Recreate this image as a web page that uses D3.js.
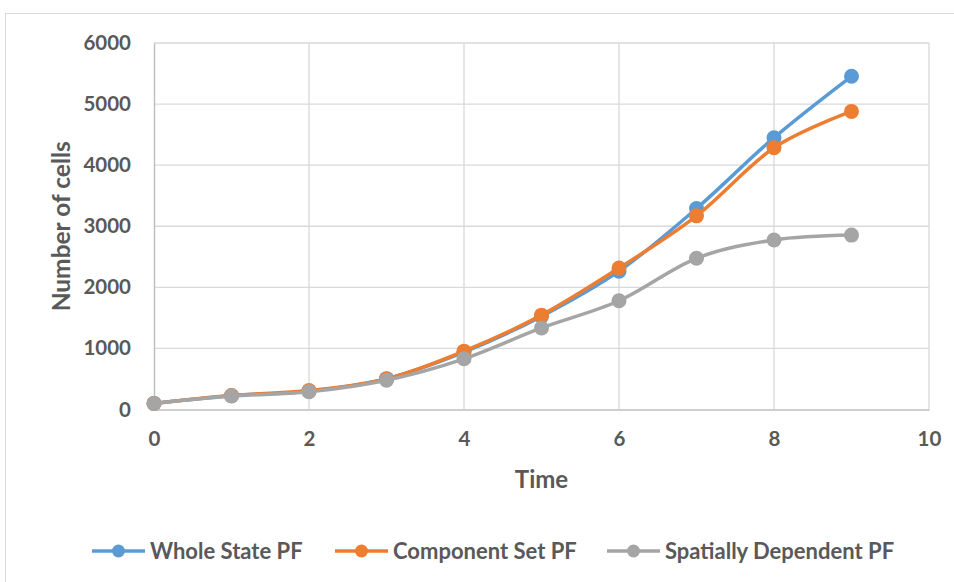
<!DOCTYPE html>
<html>
<head>
<meta charset="utf-8">
<script src="https://cdn.jsdelivr.net/npm/d3@7"></script>
<style>
  html, body { margin: 0; padding: 0; background: #fff; }
  svg { display: block; }
  text { font-family: Lato, "Open Sans", sans-serif; font-weight: 700; fill: #595959; }
</style>
</head>
<body>
<svg id="chart" width="954" height="582"></svg>
<script>
const time = [0, 1, 2, 3, 4, 5, 6, 7, 8, 9];
const wholeState = [100, 225, 300, 505, 940, 1525, 2265, 3290, 4450, 5455];
const componentSet = [100, 228, 310, 500, 955, 1545, 2315, 3170, 4285, 4880];
const spatiallyDependent = [100, 220, 290, 480, 830, 1335, 1780, 2475, 2775, 2855];
const seriesNames = ["Whole State PF", "Component Set PF", "Spatially Dependent PF"];
const seriesColors = ["#5B9BD5", "#ED7D31", "#A5A5A5"];
const xTicks = [0, 2, 4, 6, 8, 10];
const yTicks = [0, 1000, 2000, 3000, 4000, 5000, 6000];

const series = [wholeState, componentSet, spatiallyDependent].map((vals, i) => ({
  name: seriesNames[i], color: seriesColors[i],
  points: vals.map((v, j) => ({ t: time[j], v }))
}));

const svg = d3.select("#chart");

// chart border
svg.append("rect").attr("x", 5.5).attr("y", 13.5).attr("width", 960).attr("height", 600)
  .attr("fill", "#fff").attr("stroke", "#d9d9d9").attr("stroke-width", 1);

const x = d3.scaleLinear().domain([0, 10]).range([154, 929]);
const y = d3.scaleLinear().domain([0, 6000]).range([409.5, 43]);

// gridlines
const g = svg.append("g");
g.selectAll(".hg").data(yTicks.filter(d => d > 0)).join("line")
  .attr("x1", x(0)).attr("x2", x(10)).attr("y1", d => y(d)).attr("y2", d => y(d))
  .attr("stroke", "#d9d9d9").attr("stroke-width", 1.3);
g.selectAll(".vg").data(xTicks.filter(d => d > 0)).join("line")
  .attr("y1", y(0)).attr("y2", y(6000)).attr("x1", d => x(d)).attr("x2", d => x(d))
  .attr("stroke", "#d9d9d9").attr("stroke-width", 1.3);

// axes
const xAxis = svg.append("g").attr("transform", `translate(0,${y(0)})`)
  .call(d3.axisBottom(x).tickValues(xTicks).tickSize(0).tickPadding(22));
const yAxis = svg.append("g").attr("transform", `translate(${x(0)},0)`)
  .call(d3.axisLeft(y).tickValues(yTicks).tickSize(0).tickPadding(23).tickFormat(d3.format("d")));
[xAxis, yAxis].forEach(a => {
  a.select(".domain").attr("stroke", "#bfbfbf").attr("stroke-width", 1.5);
  a.selectAll("text").style("font-size", "20.5px").style("font-family", "Lato, sans-serif")
   .style("font-weight", 700).attr("fill", "#595959");
});

// axis titles
svg.append("text").attr("x", (x(0) + x(10)) / 2).attr("y", 488)
  .attr("text-anchor", "middle").style("font-size", "24px").text("Time");
svg.append("text").attr("transform", `translate(70,${(y(0) + y(6000)) / 2}) rotate(-90)`)
  .attr("text-anchor", "middle").style("font-size", "24.5px").text("Number of cells");

// lines (blue first, grey on top)
const line = d3.line().x(d => x(d.t)).y(d => y(d.v)).curve(d3.curveCardinal.tension(0));
const sg = svg.append("g");
series.forEach(s => {
  sg.append("path").datum(s.points).attr("d", line)
    .attr("fill", "none").attr("stroke", s.color).attr("stroke-width", 3.5)
    .attr("stroke-linecap", "round").attr("stroke-linejoin", "round");
  sg.selectAll(null).data(s.points).join("circle")
    .attr("cx", d => x(d.t)).attr("cy", d => y(d.v)).attr("r", 7.5).attr("fill", s.color);
});

// legend
const legendX = [92, 335, 607];
const lg = svg.append("g").attr("transform", "translate(0,551)");
series.forEach((s, i) => {
  const it = lg.append("g").attr("transform", `translate(${legendX[i]},0)`);
  it.append("line").attr("x1", 0).attr("x2", 53).attr("y1", 0).attr("y2", 0)
    .attr("stroke", s.color).attr("stroke-width", 3.5);
  it.append("circle").attr("cx", 26.5).attr("cy", 0).attr("r", 6.5).attr("fill", s.color);
  it.append("text").attr("x", 58).attr("y", 0).attr("dy", "0.35em")
    .style("font-size", "22px").text(s.name);
});
</script>
</body>
</html>
